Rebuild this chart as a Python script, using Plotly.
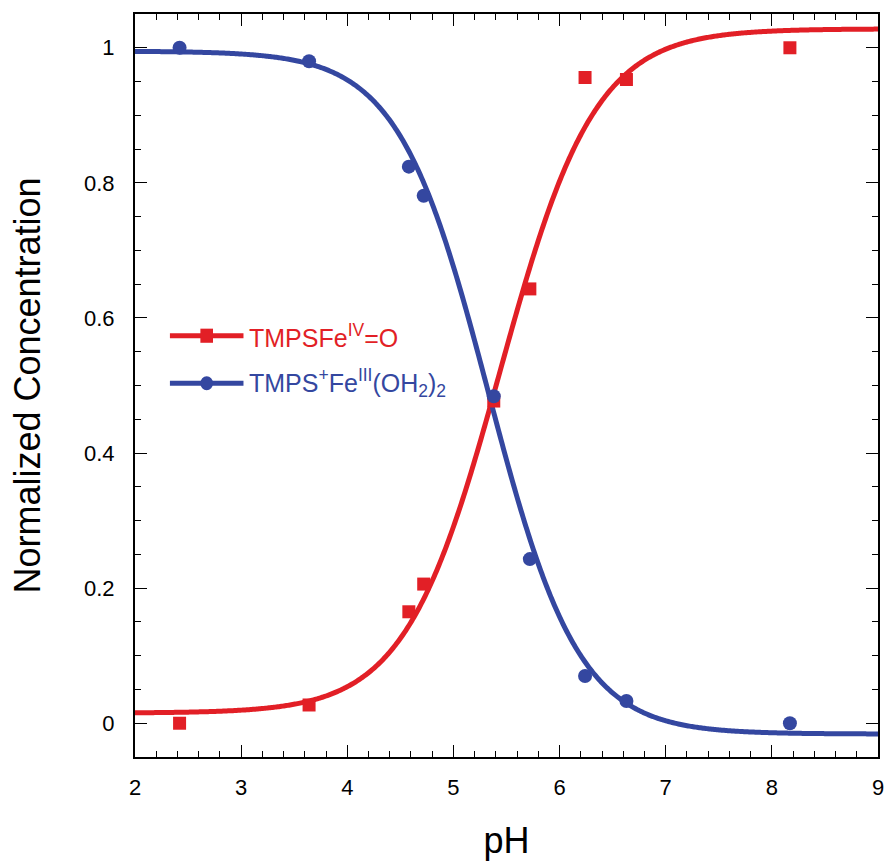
import numpy as np
import plotly.graph_objects as go

# Measured pH titration data
ph = [2.42, 3.64, 4.58, 4.72, 5.38, 5.72, 6.24, 6.63, 8.17]
feiv_oxo = [0.0, 0.027, 0.165, 0.206, 0.477, 0.643, 0.956, 0.953, 1.0]
feiii_aqua = [1.0, 0.98, 0.824, 0.781, 0.484, 0.243, 0.07, 0.033, 0.0]

# Sigmoidal (Henderson-Hasselbalch type) fit parameters: bottom, top, pKa, slope
fit_oxo = dict(bottom=0.015, top=1.028, pka=5.44, n=0.97)
fit_aqua = dict(bottom=-0.016, top=0.995, pka=5.33, n=1.02)

RED = "#E21F26"
BLUE = "#3447A0"
FONT = "Liberation Sans, Arial, Helvetica, sans-serif"


def rising(x, p):
    return p["bottom"] + (p["top"] - p["bottom"]) / (1 + 10 ** (p["n"] * (p["pka"] - x)))


def falling(x, p):
    return p["bottom"] + (p["top"] - p["bottom"]) / (1 + 10 ** (p["n"] * (x - p["pka"])))


xfit = np.linspace(2, 9, 600)

fig = go.Figure()
fig.add_trace(go.Scatter(x=xfit, y=rising(xfit, fit_oxo), mode="lines",
                         line=dict(color=RED, width=5, simplify=False),
                         showlegend=False, hoverinfo="skip"))
fig.add_trace(go.Scatter(x=xfit, y=falling(xfit, fit_aqua), mode="lines",
                         line=dict(color=BLUE, width=5, simplify=False),
                         showlegend=False, hoverinfo="skip"))
fig.add_trace(go.Scatter(x=ph, y=feiv_oxo, mode="markers",
                         marker=dict(symbol="square", size=13, color=RED), showlegend=False))
fig.add_trace(go.Scatter(x=ph, y=feiii_aqua, mode="markers",
                         marker=dict(symbol="circle", size=14, color=BLUE), showlegend=False))

# Legend drawn by hand: long line sample with a centred marker, coloured label
legend_items = [
    ("TMPSFe<sup>IV</sup>=O", RED, "square", 0.567),
    ("TMPS<sup>+</sup>Fe<sup>III</sup>(OH<sub>2</sub>)<sub>2</sub>", BLUE, "circle", 0.503),
]
lx0, lx1 = 0.047, 0.146
for label, color, sym, yy in legend_items:
    fig.add_shape(type="line", xref="paper", yref="paper", x0=lx0, x1=lx1, y0=yy, y1=yy,
                  line=dict(color=color, width=5))
    cx = (lx0 + lx1) / 2
    kind = "rect" if sym == "square" else "circle"
    fig.add_shape(type=kind, xref="paper", yref="paper",
                  x0=cx - 0.0085, x1=cx + 0.0085, y0=yy - 0.0095, y1=yy + 0.0095,
                  fillcolor=color, line=dict(width=0))
    fig.add_annotation(xref="paper", yref="paper", x=lx1 + 0.005, y=yy, text=label,
                       showarrow=False, xanchor="left", yanchor="middle",
                       font=dict(family=FONT, size=25, color=color))

axis_common = dict(
    showline=True, linecolor="black", linewidth=2, mirror="ticks",
    ticks="inside", ticklen=12, tickwidth=1.2, tickcolor="black",
    showgrid=False, zeroline=False, automargin=False, ticklabeloverflow="allow",
    tickfont=dict(family=FONT, size=22, color="black"),
)

fig.update_xaxes(range=[2, 9], dtick=1, tick0=2,
                 minor=dict(dtick=0.2, ticks="inside", ticklen=6, tickwidth=1.2, tickcolor="black"),
                 title=dict(text="pH", font=dict(family=FONT, size=36, color="black"), standoff=30),
                 ticklabelstandoff=10,
                 **axis_common)
fig.update_yaxes(range=[-0.05, 1.05], dtick=0.2, tick0=0,
                 minor=dict(dtick=0.05, ticks="inside", ticklen=6, tickwidth=1.2, tickcolor="black"),
                 tickvals=[0, 0.2, 0.4, 0.6, 0.8, 1], ticktext=["0", "0.2", "0.4", "0.6", "0.8", "1"],
                 title=dict(text="Normalized Concentration", font=dict(family=FONT, size=36, color="black"),
                            standoff=32),
                 ticklabelstandoff=14,
                 **axis_common)

fig.update_layout(
    width=884, height=861,
    margin=dict(l=135, r=6, t=14, b=104),
    plot_bgcolor="white", paper_bgcolor="white",
    showlegend=False,
)

fig.write_html("out.html")
